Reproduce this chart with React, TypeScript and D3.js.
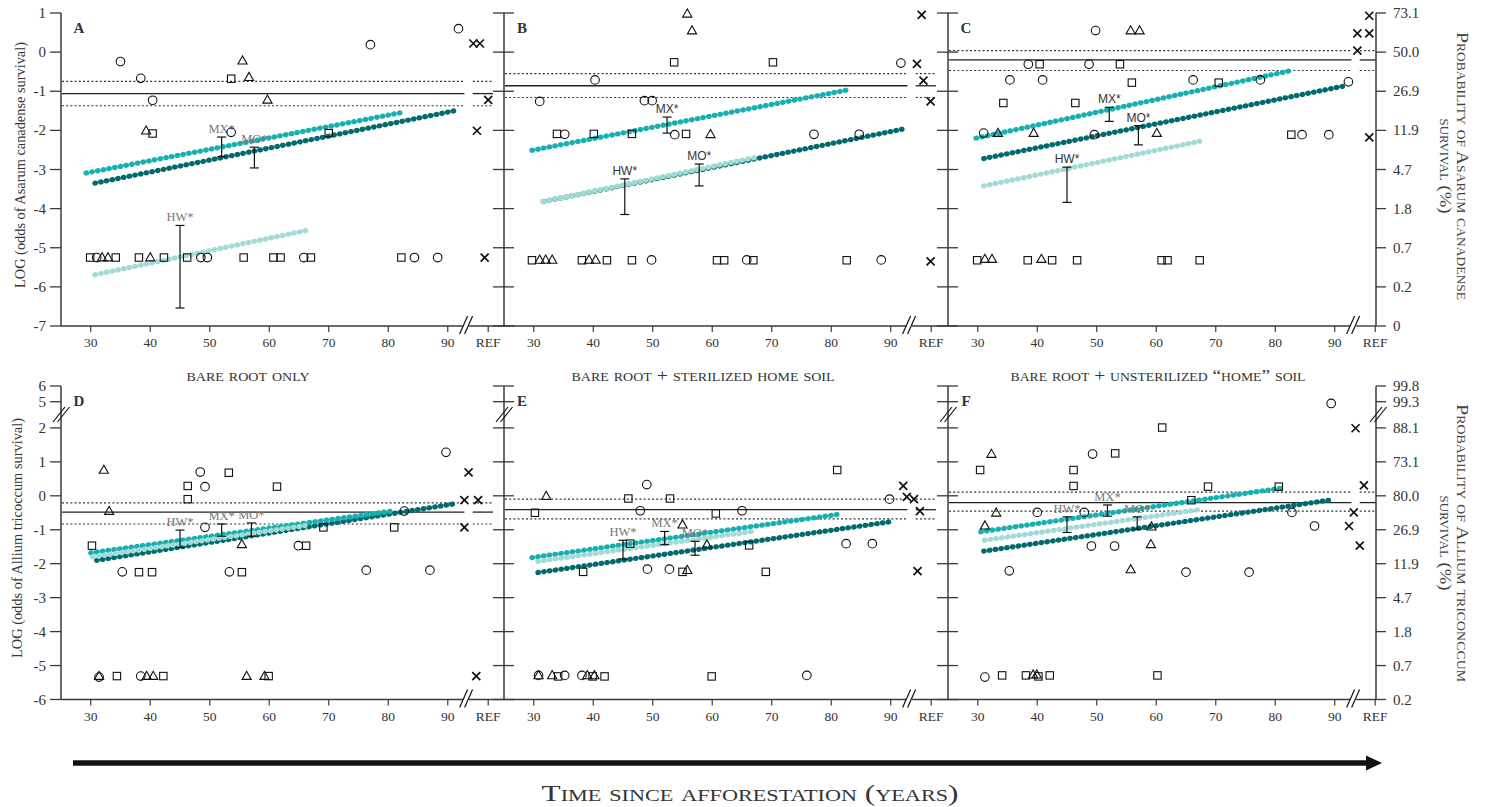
import React from "react";
import * as d3 from "d3";

type Pt = [number, number];
type Seg = [number, number, number, number];
type Bar = [number, number, number];

// ---------- axis / label data ----------
const xTicks = [30, 40, 50, 60, 70, 80, 90];
const refLabel = "REF";
const refX = 96.8;
const breakX = 93;
const lineGap: [number, number] = [92.8, 94.2];
const lineEnd = 97.6;
const topYTicks = [1, 0, -1, -2, -3, -4, -5, -6, -7];
const topProbLabels = ["73.1", "50.0", "26.9", "11.9", "4.7", "1.8", "0.7", "0.2", "0"];
const bottomYTicks = [6, 5, 2, 1, 0, -1, -2, -3, -4, -5, -6];
const bottomProbLabels = ["99.8", "99.3", "88.1", "73.1", "80.0", "26.9", "11.9", "4.7", "1.8", "0.7", "0.2"];
const groups = ["HW", "MX", "MO"];
const panelIds = ["A", "B", "C", "D", "E", "F"];
const panelTitles = ["", "", "", "bare root only", "bare root + sterilized home soil", "bare root + unsterilized \u201Chome\u201D soil"];

// ---------- Panel A ----------
const A_circles: Pt[] = [[35.0,-0.24],[38.4,-0.67],[40.4,-1.23],[53.6,-2.05],[77.0,0.19],[91.8,0.60],[31.0,-5.25],[48.5,-5.25],[49.6,-5.25],[65.8,-5.25],[84.4,-5.25],[88.3,-5.25]];
const A_triangles: Pt[] = [[55.5,-0.22],[56.6,-0.64],[59.7,-1.22],[39.3,-2.01],[31.9,-5.25],[32.9,-5.25],[40.0,-5.25]];
const A_squares: Pt[] = [[53.6,-0.68],[40.4,-2.08],[70.0,-2.07],[29.9,-5.25],[34.2,-5.25],[38.1,-5.25],[42.3,-5.25],[46.2,-5.25],[55.7,-5.25],[60.7,-5.25],[61.9,-5.25],[67.0,-5.25],[82.2,-5.25]];
const A_ref: Pt[] = [[94.3,0.22],[95.4,0.22],[96.8,-1.22],[94.9,-2.01],[96.2,-5.25]];
const A_mean = [-1.06, -0.75, -1.37];
const A_lines: Seg[] = [[30.7,-5.69,66.8,-4.54],[29.2,-3.09,82.4,-1.54],[30.7,-3.35,91.1,-1.50]];
const A_bars: Bar[] = [[45.0,-4.43,-6.54],[52.0,-2.17,-2.67],[57.5,-2.43,-2.96]];

// ---------- Panel B ----------
const B_circles: Pt[] = [[40.3,-0.71],[31.0,-1.26],[48.6,-1.24],[49.9,-1.24],[35.2,-2.10],[53.7,-2.11],[77.1,-2.10],[84.7,-2.10],[91.7,-0.28],[49.8,-5.31],[65.8,-5.31],[88.4,-5.31]];
const B_triangles: Pt[] = [[55.8,0.98],[56.6,0.55],[59.7,-2.10],[31.0,-5.31],[32.0,-5.31],[33.1,-5.31],[39.3,-5.31],[40.4,-5.31]];
const B_squares: Pt[] = [[53.6,-0.26],[70.2,-0.26],[33.9,-2.09],[40.1,-2.09],[46.5,-2.09],[55.6,-2.09],[29.7,-5.32],[38.1,-5.32],[42.3,-5.32],[46.5,-5.32],[60.8,-5.32],[62.0,-5.32],[66.9,-5.32],[82.6,-5.32]];
const B_ref: Pt[] = [[95.2,0.95],[94.4,-0.30],[95.5,-0.73],[96.7,-1.26],[96.7,-5.35]];
const B_mean = [-0.86, -0.55, -1.16];
const B_lines: Seg[] = [[31.6,-3.82,67.6,-2.68],[29.7,-2.51,83.0,-0.96],[31.6,-3.82,92.3,-1.96]];
const B_bars: Bar[] = [[45.3,-3.24,-4.15],[52.4,-1.66,-2.07],[57.8,-2.86,-3.42]];

// ---------- Panel C ----------
const C_circles: Pt[] = [[49.8,0.55],[38.5,-0.31],[48.7,-0.31],[35.4,-0.71],[40.9,-0.71],[66.2,-0.71],[77.5,-0.71],[92.3,-0.76],[31.0,-2.07],[49.6,-2.11],[84.5,-2.11],[89.0,-2.11]];
const C_triangles: Pt[] = [[55.7,0.55],[57.2,0.55],[33.4,-2.07],[39.4,-2.07],[60.1,-2.07],[31.2,-5.29],[32.4,-5.29],[40.7,-5.29]];
const C_squares: Pt[] = [[40.4,-0.31],[53.9,-0.31],[55.9,-0.78],[70.5,-0.78],[34.3,-1.30],[46.4,-1.30],[82.7,-2.11],[29.9,-5.32],[38.4,-5.32],[42.5,-5.32],[46.7,-5.32],[60.9,-5.32],[61.9,-5.32],[67.3,-5.32]];
const C_ref: Pt[] = [[95.8,0.93],[93.8,0.48],[95.8,0.48],[93.8,0.04],[95.8,-2.18]];
const C_mean = [-0.20, 0.04, -0.47];
const C_lines: Seg[] = [[31.0,-3.42,67.3,-2.28],[29.7,-2.20,82.7,-0.47],[31.0,-2.72,91.8,-0.86]];
const C_bars: Bar[] = [[45.0,-2.94,-3.84],[52.1,-1.41,-1.77],[57.0,-1.88,-2.37]];

// ---------- Panel D ----------
const D_circles: Pt[] = [[48.4,0.70],[49.2,0.27],[49.2,-0.93],[64.9,-1.47],[82.7,-0.45],[89.7,1.28],[35.3,-2.24],[53.3,-2.24],[76.3,-2.19],[87.0,-2.19],[31.4,-5.34],[38.4,-5.31]];
const D_triangles: Pt[] = [[32.2,0.76],[33.1,-0.45],[55.4,-1.43],[31.4,-5.31],[39.4,-5.31],[40.5,-5.31],[56.2,-5.31],[59.2,-5.31]];
const D_squares: Pt[] = [[30.2,-1.47],[46.3,0.29],[46.3,-0.10],[53.2,0.68],[61.3,0.27],[69.1,-0.93],[66.2,-1.47],[81.0,-0.93],[38.1,-2.25],[40.3,-2.25],[55.4,-2.25],[34.4,-5.31],[42.2,-5.31],[59.9,-5.31]];
const D_ref: Pt[] = [[93.5,0.69],[92.8,-0.13],[95.1,-0.13],[92.8,-0.93],[94.8,-5.31]];
const D_mean = [-0.48, -0.21, -0.83];
const D_lines: Seg[] = [[30.3,-1.80,66.0,-0.88],[30.0,-1.68,81.0,-0.44],[31.0,-1.90,91.0,-0.24]];
const D_bars: Bar[] = [[45.0,-1.01,-1.52],[52.0,-0.83,-1.19],[57.0,-0.80,-1.19]];

// ---------- Panel E ----------
const E_circles: Pt[] = [[49.0,0.33],[47.9,-0.44],[65.0,-0.44],[89.8,-0.10],[82.5,-1.41],[86.9,-1.41],[49.1,-2.16],[52.8,-2.16],[30.8,-5.29],[35.2,-5.29],[38.1,-5.29],[75.9,-5.29]];
const E_triangles: Pt[] = [[32.1,-0.01],[55.0,-0.85],[59.1,-1.44],[55.8,-2.19],[30.8,-5.29],[33.1,-5.29],[39.0,-5.29],[40.2,-5.29]];
const E_squares: Pt[] = [[30.2,-0.50],[45.9,-0.08],[52.9,-0.08],[60.6,-0.52],[46.2,-1.41],[66.2,-1.46],[81.0,0.76],[38.3,-2.24],[55.0,-2.24],[69.0,-2.24],[34.1,-5.32],[39.9,-5.32],[41.9,-5.32],[59.9,-5.32]];
const E_ref: Pt[] = [[92.1,0.29],[92.7,-0.03],[93.9,-0.10],[94.9,-0.45],[94.5,-2.22]];
const E_mean = [-0.41, -0.10, -0.68];
const E_lines: Seg[] = [[30.7,-1.93,67.2,-1.04],[29.7,-1.82,81.1,-0.55],[30.7,-2.26,90.1,-0.76]];
const E_bars: Bar[] = [[45.0,-1.31,-1.86],[52.0,-1.05,-1.44],[57.1,-1.34,-1.75]];

// ---------- Panel F ----------
const F_circles: Pt[] = [[89.4,4.8],[49.3,1.23],[40.0,-0.49],[47.9,-0.49],[82.8,-0.49],[86.6,-0.89],[49.1,-1.48],[53.0,-1.48],[35.3,-2.21],[65.0,-2.25],[75.6,-2.25],[31.2,-5.34]];
const F_triangles: Pt[] = [[32.3,1.23],[33.1,-0.50],[31.2,-0.88],[59.2,-0.91],[59.1,-1.43],[55.7,-2.17],[39.3,-5.27],[39.9,-5.27]];
const F_squares: Pt[] = [[30.4,0.76],[46.1,0.76],[46.1,0.29],[53.1,1.25],[61.0,2.04],[68.7,0.27],[65.9,-0.13],[80.6,0.27],[34.1,-5.29],[38.1,-5.29],[40.2,-5.32],[42.1,-5.29],[60.2,-5.29]];
const F_ref: Pt[] = [[93.5,1.99],[94.9,0.31],[93.2,-0.49],[92.4,-0.89],[94.2,-1.47]];
const F_mean = [-0.20, 0.11, -0.45];
const F_lines: Seg[] = [[31.1,-1.31,67.6,-0.40],[30.5,-1.06,81.6,0.24],[31.0,-1.63,89.8,-0.11]];
const F_bars: Bar[] = [[45.0,-0.62,-1.08],[51.8,-0.27,-0.60],[56.8,-0.62,-0.99]];

const panels = [
  { circles: A_circles, triangles: A_triangles, squares: A_squares, ref: A_ref, mean: A_mean, lines: A_lines, bars: A_bars },
  { circles: B_circles, triangles: B_triangles, squares: B_squares, ref: B_ref, mean: B_mean, lines: B_lines, bars: B_bars },
  { circles: C_circles, triangles: C_triangles, squares: C_squares, ref: C_ref, mean: C_mean, lines: C_lines, bars: C_bars },
  { circles: D_circles, triangles: D_triangles, squares: D_squares, ref: D_ref, mean: D_mean, lines: D_lines, bars: D_bars },
  { circles: E_circles, triangles: E_triangles, squares: E_squares, ref: E_ref, mean: E_mean, lines: E_lines, bars: E_bars },
  { circles: F_circles, triangles: F_triangles, squares: F_squares, ref: F_ref, mean: F_mean, lines: F_lines, bars: F_bars },
];

// ---------- styles ----------
const serif = "'Liberation Serif', 'DejaVu Serif', serif";
const sans = "'Liberation Sans', Arial, sans-serif";
const groupColors = ["#a2dbd5", "#17b0b1", "#006a6f"];
const drawOrder = [2, 1, 0];
const axisColor = "#3a3a3a";
const sansLabelPanels = ["B", "C"];

export default function App() {
  const unit = 5.95;
  const lefts = [61, 504, 948];
  const rights = [504, 948, 1376];
  const yTop = d3.scaleLinear().domain([-7, 1]).range([326, 13]);
  const yBot = d3.scaleLinear().domain([-6, 2, 5, 6]).range([699.5, 427.9, 401.7, 386]);
  const rows = [
    { y: yTop, ticks: topYTicks, prob: topProbLabels, broken: false, leftTitle: "LOG (odds of Asarum canadense survival)", leftPos: [25, 165], leftLen: 246, r1: "Probability of Asarum canadense", r2: "survival (%)", rCy: 166, r1Len: 268, r2Len: 95 },
    { y: yBot, ticks: bottomYTicks, prob: bottomProbLabels, broken: true, leftTitle: "LOG (odds of Allium tricoccum survival)", leftPos: [22, 538], leftLen: 240, r1: "Probability of Allium triconccum", r2: "survival (%)", rCy: 543, r1Len: 278, r2Len: 95 },
  ];
  const titleCenters = [248, 703, 1158];
  const titleLens = [123, 263, 295];

  const out: React.ReactNode[] = [];

  panels.forEach((p, i) => {
    const row = rows[Math.floor(i / 3)];
    const col = i % 3;
    const L = lefts[col];
    const R = rights[col];
    const x = d3.scaleLinear().domain([25, 100]).range([L, L + 75 * unit]);
    const y = row.y;
    const axisY = y(row.ticks[row.ticks.length - 1]);
    const topY = y(row.ticks[0]);
    const id = panelIds[i];
    const labelSans = sansLabelPanels.includes(id);
    const g: React.ReactNode[] = [];

    // mean + CI lines
    const endX = Math.min(x(lineEnd), R);
    p.mean.forEach((v, k) => {
      const yy = y(v);
      const common = {
        stroke: k === 0 ? "#222" : "#333",
        strokeWidth: k === 0 ? 1.3 : 1.2,
        strokeDasharray: k === 0 ? undefined : "2 2.2",
      };
      g.push(<line key={`m${k}a`} x1={L + 1} x2={x(lineGap[0])} y1={yy} y2={yy} {...common} />);
      g.push(<line key={`m${k}b`} x1={x(lineGap[1])} x2={endX} y1={yy} y2={yy} {...common} />);
    });

    // regression lines
    drawOrder.forEach((gi) => {
      const s = p.lines[gi];
      g.push(
        <line key={`l${gi}`} x1={x(s[0])} y1={y(s[1])} x2={x(s[2])} y2={y(s[3])}
          stroke={groupColors[gi]} strokeWidth={5.2} strokeLinecap="round" strokeDasharray="0.6 5.2" />
      );
    });

    // error bars and labels
    p.bars.forEach((b, gi) => {
      const bx = x(b[0]);
      const y1 = y(b[1]);
      const y2 = y(b[2]);
      g.push(
        <g key={`b${gi}`} stroke="#111" strokeWidth={1.2}>
          <line x1={bx} x2={bx} y1={y1} y2={y2} />
          <line x1={bx - 4.5} x2={bx + 4.5} y1={y1} y2={y1} />
          <line x1={bx - 4.5} x2={bx + 4.5} y1={y2} y2={y2} />
        </g>
      );
      g.push(
        <text key={`bt${gi}`} x={bx} y={y1 - 4} textAnchor="middle"
          fontFamily={labelSans ? sans : serif} fontSize={labelSans ? 12 : 12.5}
          fill={labelSans ? "#333" : "#777"}>
          {groups[gi]}*
        </text>
      );
    });

    // markers
    p.circles.forEach((d, k) => {
      g.push(<circle key={`c${k}`} cx={x(d[0])} cy={y(d[1])} r={4.3} fill="none" stroke="#111" strokeWidth={1.1} />);
    });
    p.squares.forEach((d, k) => {
      g.push(<rect key={`s${k}`} x={x(d[0]) - 3.7} y={y(d[1]) - 3.7} width={7.4} height={7.4} fill="none" stroke="#111" strokeWidth={1.1} />);
    });
    p.triangles.forEach((d, k) => {
      const cx = x(d[0]);
      const cy = y(d[1]);
      g.push(<polygon key={`t${k}`} points={`${cx},${cy - 4.8} ${cx - 4.6},${cy + 3.3} ${cx + 4.6},${cy + 3.3}`} fill="none" stroke="#111" strokeWidth={1.1} />);
    });
    p.ref.forEach((d, k) => {
      const cx = x(d[0]);
      const cy = y(d[1]);
      g.push(
        <path key={`r${k}`} d={`M${cx - 4},${cy - 4}L${cx + 4},${cy + 4}M${cx - 4},${cy + 4}L${cx + 4},${cy - 4}`} stroke="#111" strokeWidth={1.7} />
      );
    });

    // x axis with break
    const bx = x(breakX);
    g.push(<line key="xa1" x1={L} x2={bx - 2.5} y1={axisY} y2={axisY} stroke={axisColor} strokeWidth={1.4} />);
    g.push(<line key="xa2" x1={bx + 3.5} x2={R} y1={axisY} y2={axisY} stroke={axisColor} strokeWidth={1.4} />);
    [0, 1].forEach((k) => {
      g.push(<line key={`xs${k}`} x1={bx - 6 + k * 5} y1={axisY + 8} x2={bx + 2 + k * 5} y2={axisY - 10} stroke="#111" strokeWidth={1.2} />);
    });
    xTicks.forEach((t) => {
      g.push(<line key={`xt${t}`} x1={x(t)} x2={x(t)} y1={axisY} y2={axisY + 6} stroke={axisColor} strokeWidth={1.2} />);
      g.push(<text key={`xl${t}`} x={x(t)} y={axisY + 21} textAnchor="middle" fontFamily={serif} fontSize={13.5} fill="#333">{t}</text>);
    });
    g.push(<line key="xtr" x1={x(refX)} x2={x(refX)} y1={axisY} y2={axisY + 6} stroke={axisColor} strokeWidth={1.2} />);
    g.push(<text key="xlr" x={x(refX)} y={axisY + 21} textAnchor="middle" fontFamily={serif} fontSize={13.5} fill="#333">{refLabel}</text>);

    // left y axis
    g.push(<line key="ya" x1={L} x2={L} y1={topY} y2={axisY} stroke={axisColor} strokeWidth={1.5} />);
    row.ticks.forEach((t) => {
      const yy = y(t);
      g.push(<line key={`yt${t}`} x1={L - 11} x2={col === 0 ? L : L + 10} y1={yy} y2={yy} stroke={axisColor} strokeWidth={1.3} />);
      if (col === 0) {
        g.push(<text key={`yl${t}`} x={L - 15} y={yy + 5} textAnchor="end" fontFamily={serif} fontSize={15} fill="#333">{t}</text>);
      }
    });
    if (row.broken) {
      const cy = 414;
      [0, 1].forEach((k) => {
        g.push(<line key={`ys${k}`} x1={L - 8 + k * 4.5} y1={cy + 8} x2={L + 4 + k * 4.5} y2={cy - 7} stroke="#111" strokeWidth={1.2} />);
      });
    }

    // right axis on last column
    if (col === 2) {
      g.push(<line key="ra" x1={R} x2={R} y1={topY} y2={axisY} stroke={axisColor} strokeWidth={1.5} />);
      row.ticks.forEach((t, k) => {
        const yy = y(t);
        g.push(<line key={`rt${t}`} x1={R} x2={R + 10} y1={yy} y2={yy} stroke={axisColor} strokeWidth={1.3} />);
        g.push(<text key={`rl${t}`} x={R + 17} y={yy + 5} textAnchor="start" fontFamily={serif} fontSize={15} fill="#333">{row.prob[k]}</text>);
      });
      if (row.broken) {
        const cy = 414;
        [0, 1].forEach((k) => {
          g.push(<line key={`rs${k}`} x1={R - 6 + k * 4.5} y1={cy + 8} x2={R + 6 + k * 4.5} y2={cy - 7} stroke="#111" strokeWidth={1.2} />);
        });
      }
    }

    // panel letter
    g.push(<text key="pl" x={L + 18} y={topY + 20} textAnchor="middle" fontFamily={serif} fontSize={15} fontWeight={700} fill="#333">{id}</text>);

    // panel title
    if (panelTitles[i]) {
      g.push(
        <text key="pt" x={titleCenters[col]} y={381} textAnchor="middle" fontFamily={serif} fontSize={17}
          fill="#333" style={{ fontVariant: "small-caps" }} textLength={titleLens[col]} lengthAdjust="spacingAndGlyphs">
          {panelTitles[i]}
        </text>
      );
    }

    out.push(<g key={`p${i}`}>{g}</g>);
  });

  // row titles
  rows.forEach((row, r) => {
    out.push(
      <text key={`lt${r}`} transform={`translate(${row.leftPos[0]},${row.leftPos[1]}) rotate(-90)`} textAnchor="middle"
        fontFamily={serif} fontSize={14.5} fill="#333" textLength={row.leftLen} lengthAdjust="spacingAndGlyphs">
        {row.leftTitle}
      </text>
    );
    out.push(
      <text key={`rt1${r}`} transform={`translate(1457,${row.rCy}) rotate(90)`} textAnchor="middle"
        fontFamily={serif} fontSize={17.5} fill="#444" style={{ fontVariant: "small-caps" }}
        textLength={row.r1Len} lengthAdjust="spacingAndGlyphs">
        {row.r1}
      </text>
    );
    out.push(
      <text key={`rt2${r}`} transform={`translate(1440,${row.rCy}) rotate(90)`} textAnchor="middle"
        fontFamily={serif} fontSize={17.5} fill="#444" style={{ fontVariant: "small-caps" }}
        textLength={row.r2Len} lengthAdjust="spacingAndGlyphs">
        {row.r2}
      </text>
    );
  });

  return (
    <svg width={1487} height={807} style={{ position: "absolute", left: 0, top: 0, background: "#fff" }}>
      <rect x={0} y={0} width={1487} height={807} fill="#fff" />
      {out}
      <line x1={73} x2={1370} y1={763} y2={763} stroke="#111" strokeWidth={5.5} />
      <polygon points="1366,755.5 1382,763 1366,770.5" fill="#111" />
      <text x={750} y={801} textAnchor="middle" fontFamily={serif} fontSize={24} fill="#333"
        style={{ fontVariant: "small-caps" }} textLength={417} lengthAdjust="spacingAndGlyphs">
        Time since afforestation (years)
      </text>
    </svg>
  );
}
